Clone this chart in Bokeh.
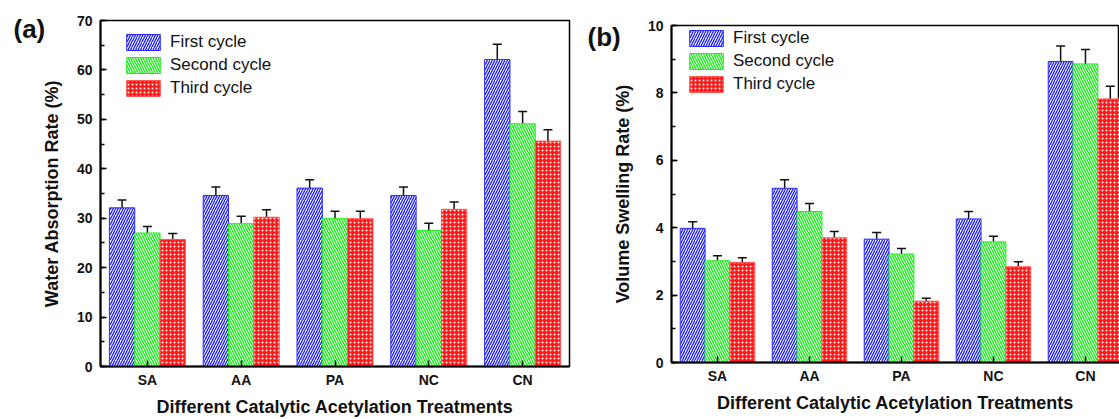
from bokeh.plotting import figure
from bokeh.models import (ColumnDataSource, FixedTicker, Whisker, TeeHead, Range1d)
from bokeh.layouts import row, column
from bokeh.embed import file_html
from bokeh.resources import INLINE

categories = ["SA", "AA", "PA", "NC", "CN"]
series = ["First cycle", "Second cycle", "Third cycle"]

# (a) Water absorption rate (%)
wa_first = [32.1, 34.6, 36.1, 34.6, 62.1]
wa_second = [27.0, 28.9, 29.9, 27.5, 49.1]
wa_third = [25.7, 30.2, 29.9, 31.8, 45.6]
wa_first_err = [1.6, 1.7, 1.7, 1.7, 3.1]
wa_second_err = [1.3, 1.5, 1.5, 1.5, 2.5]
wa_third_err = [1.2, 1.5, 1.5, 1.5, 2.3]

# (b) Volume swelling rate (%)
vs_first = [3.98, 5.17, 3.66, 4.26, 8.93]
vs_second = [3.02, 4.48, 3.22, 3.58, 8.86]
vs_third = [2.97, 3.70, 1.82, 2.84, 7.82]
vs_first_err = [0.20, 0.25, 0.20, 0.22, 0.46]
vs_second_err = [0.15, 0.24, 0.16, 0.17, 0.43]
vs_third_err = [0.14, 0.19, 0.09, 0.15, 0.38]

FONT = "Liberation Sans"
BAR_W = 0.27
styles = [
    dict(fill_color="white", line_color="#2a2aff", hatch_pattern="/", hatch_color="#1a1aff",
         hatch_scale=5, hatch_weight=1.3),
    dict(fill_color="white", line_color="#22ee22", hatch_pattern="\\", hatch_color="#11ee11",
         hatch_scale=5, hatch_weight=1.3),
    dict(fill_color="#ff1a1a", line_color="#ff5555", hatch_pattern=".", hatch_color="white",
         hatch_scale=4, hatch_weight=1.2),
]


def make_panel(vals, errs, ymax, yticks, minor_n, ylabel, width, height,
               mb_left, mb_right, mb_top, mb_bottom, xend, legend_loc, tag, tag_offset,
               tag_standoff):
    p = figure(width=width, height=height, output_backend="svg", toolbar_location=None,
               x_range=Range1d(0.5, xend), y_range=Range1d(0, ymax),
               min_border_left=mb_left, min_border_right=mb_right,
               min_border_top=mb_top, min_border_bottom=mb_bottom,
               title=tag)
    p.title.align = "left"
    p.title.offset = tag_offset
    p.title.standoff = tag_standoff
    p.title.text_font = FONT
    p.title.text_font_style = "bold"
    p.title.text_font_size = "26px"
    p.title.text_color = "#111111"

    p.xgrid.visible = False
    p.ygrid.visible = False
    p.outline_line_color = "black"
    p.outline_line_width = 1.5
    p.background_fill_color = "white"
    p.border_fill_color = "white"

    x = list(range(1, len(categories) + 1))
    offsets = [-BAR_W, 0.0, BAR_W]
    for k in range(3):
        xs = [xi + offsets[k] for xi in x]
        src = ColumnDataSource(dict(x=xs, top=vals[k],
                                    upper=[v + e for v, e in zip(vals[k], errs[k])],
                                    lower=[v - e for v, e in zip(vals[k], errs[k])]))
        p.vbar(x="x", top="top", width=BAR_W, source=src, line_width=1,
               legend_label=series[k], **styles[k])
        w = Whisker(base="x", upper="upper", lower="lower", source=src, dimension="height",
                    line_color="#111111", line_width=1.5,
                    upper_head=TeeHead(size=9, line_color="#111111", line_width=1.5),
                    lower_head=TeeHead(size=9, line_color="#111111", line_width=1.5))
        p.add_layout(w)

    p.xaxis.ticker = FixedTicker(ticks=x)
    p.xaxis.major_label_overrides = {i + 1: c for i, c in enumerate(categories)}
    p.xaxis.minor_tick_line_color = None
    p.yaxis.ticker = FixedTicker(ticks=yticks,
                                 minor_ticks=[i * (yticks[1] - yticks[0]) / minor_n
                                              for i in range(int(len(yticks) * minor_n))])
    for ax in (p.xaxis, p.yaxis):
        ax.axis_line_width = 2
        ax.axis_line_color = "black"
        ax.major_tick_in = 6
        ax.major_tick_out = 0
        ax.minor_tick_in = 4
        ax.minor_tick_out = 0
        ax.major_tick_line_width = 1.5
        ax.minor_tick_line_width = 1.5
        ax.major_label_text_font = FONT
        ax.major_label_text_font_style = "bold"
        ax.major_label_text_font_size = "14px"
        ax.major_label_text_color = "#111111"
        ax.axis_label_text_font = FONT
        ax.axis_label_text_font_style = "bold"
        ax.axis_label_text_font_size = "18px"
        ax.axis_label_text_color = "#111111"
    p.yaxis.major_label_standoff = 8
    p.yaxis.axis_label = ylabel
    p.yaxis.axis_label_standoff = 12
    p.xaxis.axis_label = "Different Catalytic Acetylation Treatments"
    p.xaxis.major_label_standoff = 5
    p.xaxis.axis_label_standoff = 6

    lg = p.legend[0]
    lg.location = legend_loc
    lg.border_line_color = None
    lg.background_fill_alpha = 0
    lg.padding = 0
    lg.margin = 0
    lg.spacing = 3
    lg.glyph_width = 42
    lg.glyph_height = 20
    lg.label_standoff = 6
    lg.label_text_font = FONT
    lg.label_text_font_size = "17px"
    lg.label_text_color = "#111111"
    lg.label_height = 20
    return p


pa = make_panel([wa_first, wa_second, wa_third], [wa_first_err, wa_second_err, wa_third_err],
                70, [0, 10, 20, 30, 40, 50, 60, 70], 2, "Water Absorption Rate (%)",
                580, 419, 100, 11, 20, 53, 5.5, (22, 268), "(a)", -87, -46)
pb = make_panel([vs_first, vs_second, vs_third], [vs_first_err, vs_second_err, vs_third_err],
                10, [0, 2, 4, 6, 8, 10], 2, "Volume Swelling Rate (%)",
                539, 419, 91, 0, 25, 57, 5.37, (14, 268), "(b)", -84, -52)

layout = row(column(pa), column(pb), spacing=0)
open("out.html", "w").write(file_html(layout, INLINE))
